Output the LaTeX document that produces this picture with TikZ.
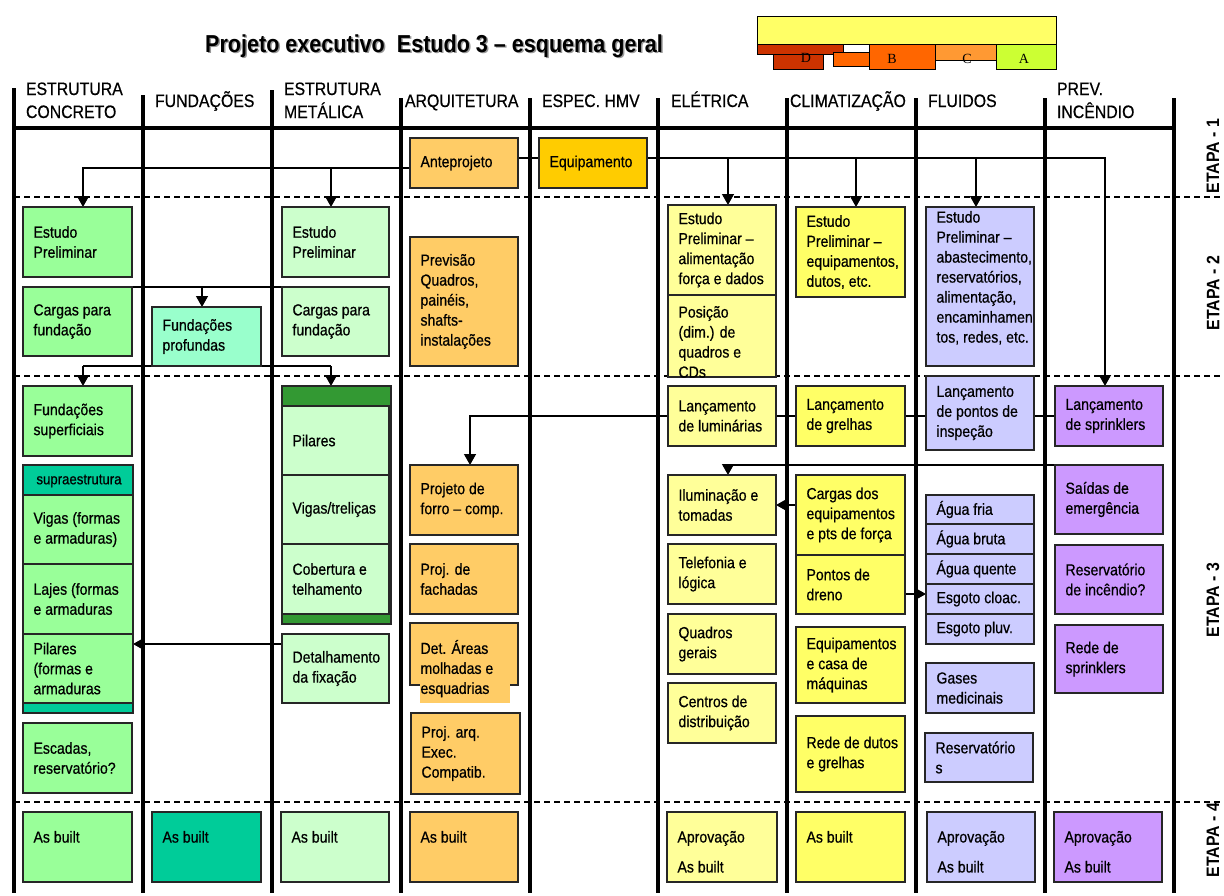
\documentclass[tikz,border=0pt]{standalone}
\usepackage{fontspec}
\setmainfont{Liberation Sans}[FakeStretch=0.88,UprightFeatures={FakeBold=0.6}]
\newfontfamily\legendfont{Liberation Serif}
\usetikzlibrary{arrows.meta}
\pgfdeclarelayer{bg}
\pgfsetlayers{bg,main}

\definecolor{concreto}{HTML}{99FF99}
\definecolor{aqua}{HTML}{99FFCC}
\definecolor{tealc}{HTML}{00CC99}
\definecolor{metal}{HTML}{CCFFCC}
\definecolor{darkgreen}{HTML}{339933}
\definecolor{arq}{HTML}{FFCC66}
\definecolor{gold}{HTML}{FFCC00}
\definecolor{ele}{HTML}{FFFF99}
\definecolor{clim}{HTML}{FFFF66}
\definecolor{flu}{HTML}{CCCCFF}
\definecolor{prev}{HTML}{CC99FF}
\definecolor{lgD}{HTML}{CC3300}
\definecolor{lgO}{HTML}{FF6600}
\definecolor{lgC}{HTML}{FF9933}
\definecolor{lgA}{HTML}{CCFF33}

% rectangle node from corner (x1,y1) to (x2,y2)
\newcommand\myrect[6]{%
  \node[box,#6,minimum width={(#4-#2)*1pt},minimum height={(#5-#3)*1pt},anchor=north west] (#1) at (#2,#3) {};}
% box with text vertically centred
\newcommand\mybox[7]{%
  \myrect{#1}{#2}{#3}{#4}{#5}{fill=#6}%
  \node[txt,anchor=west] (#1-t) at ([xshift=10.5pt]#1.west) {#7};}
% box with text starting from a given baseline
\newcommand\myboxt[8]{%
  \myrect{#1}{#2}{#3}{#4}{#5}{fill=#6}%
  \node[txt,anchor=north west] (#1-t) at (#2+10.5,#7-12) {#8};}

\begin{document}
\begin{tikzpicture}[x=1pt,y=-1pt,
  box/.style={draw=black!85,line width=1.2pt,outer sep=0pt,inner sep=0pt},
  txt/.style={inner sep=0pt,outer sep=0pt,align=left,font=\fontsize{16}{20}\selectfont},
  head/.style={inner sep=0pt,outer sep=0pt,anchor=base west,font=\fontsize{18}{23}\selectfont},
  etapa/.style={inner sep=0pt,rotate=90,font=\bfseries\fontsize{18}{20}\selectfont},
  conn/.style={line width=1.3pt,-{Triangle[width=12pt,length=11pt]}},
  link/.style={line width=1.3pt},
  lane/.style={line width=4pt},
  stage/.style={line width=1.4pt,dash pattern=on 6pt off 4pt},
  lgbox/.style={draw=black,line width=1pt},
  lgtxt/.style={inner sep=0pt,font=\legendfont\fontsize{14}{16}\selectfont}
]
\useasboundingbox (0,0) rectangle (1224,895);

% title with its shadow
\node[anchor=base west,inner sep=0pt,text=black!40,font=\bfseries\fontsize{24.5}{28}\selectfont] (title-s) at (206.5,53.5) {Projeto executivo\ \ Estudo 3 – esquema geral};
\node[anchor=base west,inner sep=0pt,font=\bfseries\fontsize{24.5}{28}\selectfont] (title) at (205,52) {Projeto executivo\ \ Estudo 3 – esquema geral};

% legend
\myrect{lgY}{757}{16}{1056}{44}{lgbox,fill=clim}
\myrect{lgD1}{757}{44}{843}{54}{lgbox,fill=lgD}
\myrect{lgD2}{773}{54}{823}{69}{lgbox,fill=lgD}
\myrect{lgO1}{833}{52}{869}{66}{lgbox,fill=lgO}
\myrect{lgB}{869}{44}{935}{69}{lgbox,fill=lgO}
\myrect{lgC}{935}{44}{996}{60}{lgbox,fill=lgC}
\myrect{lgA}{996}{44}{1056}{69}{lgbox,fill=lgA}
\node[lgtxt] (lgD-t) at (806,58) {D};
\node[lgtxt] (lgB-t) at (892,59) {B};
\node[lgtxt] (lgC-t) at (967,59) {C};
\node[lgtxt] (lgA-t) at (1024,59) {A};

% lanes
\foreach \x/\t in {14/88,143/95,272/90,401/98,530/98,658/98,787/98,916/98,1045/98,1174/98}
  \draw[lane] (\x,\t) -- (\x,893);
\draw[lane] (12,128) -- (1176,128);

% lane headings
\node[head] (h1a) at (26,95) {ESTRUTURA};
\node[head] (h1b) at (26,118) {CONCRETO};
\node[head] (h2) at (155,107) {FUNDAÇÕES};
\node[head] (h3a) at (284,95) {ESTRUTURA};
\node[head] (h3b) at (284,118) {METÁLICA};
\node[head] (h4) at (405,107) {ARQUITETURA};
\node[head] (h5) at (542,107) {ESPEC. HMV};
\node[head] (h6) at (671,107) {ELÉTRICA};
\node[head] (h7) at (790,107) {CLIMATIZAÇÃO};
\node[head] (h8) at (928,107) {FLUIDOS};
\node[head] (h9a) at (1057,95) {PREV.};
\node[head] (h9b) at (1057,118) {INCÊNDIO};

% stage labels
\node[etapa] (et1) at (1213,156) {ETAPA - 1};
\node[etapa] (et2) at (1213,293) {ETAPA - 2};
\node[etapa] (et3) at (1213,600) {ETAPA - 3};
\node[etapa] (et4) at (1213,840) {ETAPA - 4};

% estrutura concreto
\mybox{cEP}{23}{207}{132}{277}{concreto}{Estudo\\Preliminar}
\mybox{cCF}{23}{287}{132}{356}{concreto}{Cargas para\\fundação}
\mybox{cFS}{23}{386}{132}{456}{concreto}{Fundações\\superficiais}
\myrect{cSup}{23}{465}{133}{713}{fill=tealc}
\node[txt,font=\fontsize{15}{18}\selectfont] (cSup-t) at (79,481) {supraestrutura};
\mybox{cVG}{23}{495}{133}{564}{concreto}{Vigas (formas\\e armaduras)}
\mybox{cLJ}{23}{564}{133}{634}{concreto}{Lajes (formas\\e armaduras}
\mybox{cPI}{23}{634}{133}{703}{concreto}{Pilares\\(formas e\\armaduras}
\mybox{cES}{23}{723}{132}{793}{concreto}{Escadas,\\reservatório?}
\myboxt{abC}{23}{812}{132}{882}{concreto}{843}{As built}

% fundações
\mybox{fFP}{152}{307}{261}{366}{aqua}{Fundações\\profundas}
\myboxt{abF}{152}{812}{261}{882}{tealc}{843}{As built}

% estrutura metálica
\mybox{mEP}{282}{207}{389}{277}{metal}{Estudo\\Preliminar}
\mybox{mCF}{282}{287}{389}{356}{metal}{Cargas para\\fundação}
\myrect{mG}{282}{386}{391}{624}{fill=darkgreen}
\mybox{mPI}{282}{406}{389}{475}{metal}{Pilares}
\mybox{mVT}{282}{475}{389}{544}{metal}{Vigas/treliças}
\mybox{mCT}{282}{544}{389}{614}{metal}{Cobertura e\\telhamento}
\mybox{mDF}{282}{634}{389}{703}{metal}{Detalhamento\\da fixação}
\myboxt{abM}{281}{812}{389}{882}{metal}{843}{As built}

% arquitetura
\mybox{aAP}{410}{138}{518}{188}{arq}{Anteprojeto}
\mybox{aPQ}{410}{237}{518}{366}{arq}{Previsão\\Quadros,\\painéis,\\shafts-\\instalações}
\mybox{aPF}{410}{465}{518}{535}{arq}{Projeto de\\forro – comp.}
\mybox{aFA}{410}{544}{518}{614}{arq}{Proj. de\\fachadas}
\myrect{aDA}{410}{623}{518}{685}{fill=arq}
\fill[arq] (420,684) rectangle (510,703);
\node[txt,anchor=north west] (aDA-t) at (420.5,640) {Det. Áreas\\molhadas e\\esquadrias};
\mybox{aPE}{411}{713}{520}{794}{arq}{Proj. arq.\\Exec.\\Compatib.}
\myboxt{abA}{410}{812}{518}{882}{arq}{843}{As built}

% especificação HMV
\mybox{hEQ}{539}{138}{647}{188}{gold}{Equipamento}

% elétrica
\mybox{eEP}{668}{205}{776}{295}{ele}{Estudo\\Preliminar –\\alimentação\\força e dados}
\myboxt{ePO}{668}{295}{776}{377}{ele}{318}{Posição\\(dim.) de\\quadros e\\CDs}
\mybox{eLL}{668}{386}{776}{446}{ele}{Lançamento\\de luminárias}
\mybox{eIT}{668}{475}{776}{535}{ele}{Iluminação e\\tomadas}
\mybox{eTL}{668}{544}{776}{604}{ele}{Telefonia e\\lógica}
\mybox{eQG}{668}{614}{776}{674}{ele}{Quadros\\gerais}
\mybox{eCD}{668}{683}{776}{743}{ele}{Centros de\\distribuição}
\myboxt{abE}{667}{812}{777}{882}{ele}{843}{Aprovação\\[10pt]As built}

% climatização
\mybox{kEP}{796}{207}{905}{297}{clim}{Estudo\\Preliminar –\\equipamentos,\\dutos, etc.}
\mybox{kLG}{796}{386}{905}{446}{clim}{Lançamento\\de grelhas}
\mybox{kCE}{796}{475}{905}{555}{clim}{Cargas dos\\equipamentos\\e pts de força}
\mybox{kPD}{796}{555}{905}{614}{clim}{Pontos de\\dreno}
\mybox{kEC}{796}{627}{905}{703}{clim}{Equipamentos\\e casa de\\máquinas}
\mybox{kRD}{796}{716}{905}{792}{clim}{Rede de dutos\\e grelhas}
\myboxt{abK}{796}{812}{905}{882}{clim}{843}{As built}

% fluidos
\myboxt{uEP}{926}{207}{1034}{366}{flu}{223}{Estudo\\Preliminar –\\abastecimento,\\reservatórios,\\alimentação,\\encaminhamen\\tos, redes, etc.}
\mybox{uLP}{926}{376}{1034}{450}{flu}{Lançamento\\de pontos de\\inspeção}
\mybox{uAF}{926}{495}{1034}{524}{flu}{Água fria}
\mybox{uAB}{926}{524}{1034}{554}{flu}{Água bruta}
\mybox{uAQ}{926}{554}{1034}{584}{flu}{Água quente}
\mybox{uEC}{926}{584}{1034}{614}{flu}{Esgoto cloac.}
\mybox{uEPl}{926}{614}{1034}{644}{flu}{Esgoto pluv.}
\mybox{uGM}{926}{663}{1034}{713}{flu}{Gases\\medicinais}
\mybox{uRS}{925}{733}{1033}{782}{flu}{Reservatório\\s}
\myboxt{abU}{927}{812}{1035}{882}{flu}{843}{Aprovação\\[10pt]As built}

% prevenção de incêndio
\mybox{pLS}{1055}{386}{1163}{446}{prev}{Lançamento\\de sprinklers}
\mybox{pSE}{1055}{465}{1163}{534}{prev}{Saídas de\\emergência}
\mybox{pRI}{1055}{545}{1163}{614}{prev}{Reservatório\\de incêndio?}
\mybox{pRS}{1055}{625}{1163}{693}{prev}{Rede de\\sprinklers}
\myboxt{abP}{1054}{812}{1162}{882}{prev}{843}{Aprovação\\[10pt]As built}

\begin{pgfonlayer}{bg}
  % stage separators
  \foreach \y in {197,376,802} \draw[stage] (14,\y) -- (1224,\y);

  % etapa 1 -> etapa 2
  \coordinate (aL) at ([yshift=-5pt]aAP.west);
  \coordinate (cEPx) at ([xshift=5.5pt]cEP.north);
  \coordinate (mEPx) at ([xshift=-4.5pt]mEP.north);
  \draw[conn] (aL) -| (cEPx);
  \draw[conn] (aL -| mEPx) -- (mEPx);
  \draw[link] ([yshift=5pt]aAP.east) -- ([yshift=5pt]hEQ.west);
  \coordinate (hR) at ([yshift=5pt]hEQ.east);
  \coordinate (eEPx) at ([xshift=6pt]eEP.north);
  \coordinate (kEPx) at ([xshift=5.5pt]kEP.north);
  \coordinate (uEPx) at ([xshift=-4pt]uEP.north);
  \coordinate (pLSx) at ([xshift=-4pt]pLS.north);
  \draw[conn] (hR) -| (pLSx);
  \draw[conn] (hR -| eEPx) -- (eEPx);
  \draw[conn] (hR -| kEPx) -- (kEPx);
  \draw[conn] (hR -| uEPx) -- (uEPx);

  % cargas -> fundações
  \coordinate (fFPx) at ([xshift=-4.5pt]fFP.north);
  \draw[link] (cCF.north east) -- (mCF.north west);
  \draw[conn] (cCF.north east -| fFPx) -- (fFPx);
  \coordinate (cFSx) at ([xshift=5.5pt]cFS.north);
  \coordinate (mGx) at ([xshift=-5.5pt]mG.north);
  \draw[link] (fFP.south -| cFSx) -- (fFP.south -| mGx);
  \draw[conn] (fFP.south -| cFSx) -- (cFSx);
  \draw[conn] (fFP.south -| mGx) -- (mGx);

  % etapa 3
  \draw[conn] (pLS.west) -| ([xshift=6pt]aPF.north);
  \draw[conn] (pSE.north west) -| ([xshift=6pt]eIT.north);
  \draw[conn] (kCE.west |- eIT.east) -- (eIT.east);
  \coordinate (kPDr) at ([yshift=-9.5pt]kPD.east);
  \draw[conn] (kPDr) -- (kPDr -| uEC.west);
  \coordinate (mDFl) at ([yshift=24.5pt]mDF.west);
  \draw[conn] (mDFl) -- (mDFl -| cPI.east);
\end{pgfonlayer}
\end{tikzpicture}
\end{document}
